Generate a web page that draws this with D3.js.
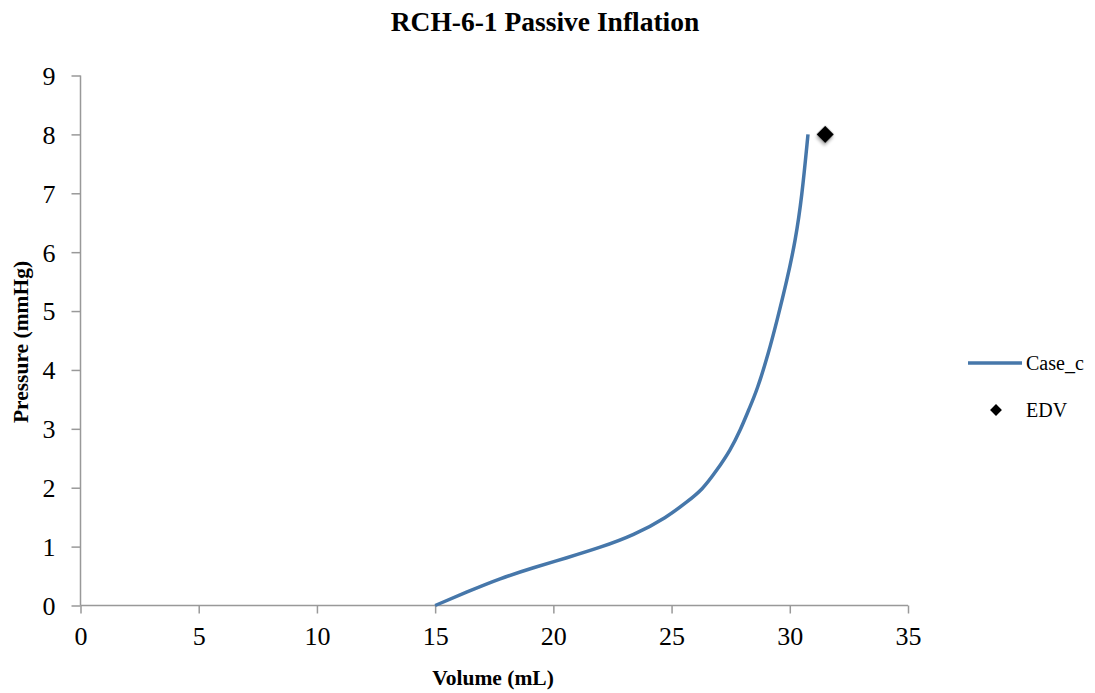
<!DOCTYPE html>
<html>
<head>
<meta charset="utf-8">
<script src="https://cdn.jsdelivr.net/npm/d3@7"></script>
<style>
  html, body { margin: 0; padding: 0; background: #fff; }
  svg { display: block; }
  text { font-family: "Liberation Serif", "DejaVu Serif", serif; fill: #000; }
</style>
</head>
<body>
<svg id="chart" width="1095" height="693"></svg>
<script>
// Passive inflation pressure-volume curve (Case_c)
const volume   = [15.0, 16.34, 17.75, 19.16, 20.57, 21.98, 23.39, 24.81, 25.65, 26.29, 26.92, 27.49, 27.91, 28.26, 28.62, 29.11, 29.46, 29.88, 30.24, 30.51, 30.77];
const pressure = [0.0, 0.23, 0.46, 0.645, 0.81, 0.985, 1.19, 1.50, 1.76, 1.96, 2.30, 2.64, 2.98, 3.32, 3.66, 4.30, 4.84, 5.52, 6.20, 6.93, 8.0];

// End-diastolic volume marker
const edvVolume = [31.5];
const edvPressure = [8];

const xTicks = [0, 5, 10, 15, 20, 25, 30, 35];
const yTicks = [0, 1, 2, 3, 4, 5, 6, 7, 8, 9];

const seriesNames = ["Case_c", "EDV"];

const svg = d3.select("#chart");
const W = 1095, H = 693;
const margin = { left: 80.5, right: W - 908, top: 75.5, bottom: H - 605.5 };

const x = d3.scaleLinear().domain([0, 35]).range([margin.left, W - margin.right]);
const y = d3.scaleLinear().domain([0, 9]).range([H - margin.bottom, margin.top]);

const defs = svg.append("defs");
const f = defs.append("filter").attr("id", "shadow")
  .attr("x", "-50%").attr("y", "-50%").attr("width", "200%").attr("height", "200%");
f.append("feDropShadow").attr("dx", 1.5).attr("dy", 2.5).attr("stdDeviation", 1.5)
  .attr("flood-color", "#000").attr("flood-opacity", 0.3);

const axisColor = "#999";
const tickFont = "26px";

// Y axis
const yAxis = svg.append("g")
  .attr("transform", `translate(${x(0)},0)`)
  .call(d3.axisLeft(y).tickValues(yTicks).tickSize(9).tickPadding(16).tickFormat(d3.format("d")));
yAxis.selectAll("path, line").attr("stroke", axisColor).attr("stroke-width", 1.5);
yAxis.select(".domain").attr("d", `M0,${y(9)}V${y(0)}`);
yAxis.selectAll("text")
  .style("font-family", "Liberation Serif, serif").style("font-size", tickFont)
  .attr("fill", "#000").attr("dy", "0.34em");

// X axis
const xAxis = svg.append("g")
  .attr("transform", `translate(0,${y(0)})`)
  .call(d3.axisBottom(x).tickValues(xTicks).tickSize(8).tickPadding(13).tickFormat(d3.format("d")));
xAxis.selectAll("path, line").attr("stroke", axisColor).attr("stroke-width", 1.5);
xAxis.select(".domain").attr("d", `M${x(0)},0H${x(35)}`);
xAxis.selectAll("text")
  .style("font-family", "Liberation Serif, serif").style("font-size", tickFont)
  .attr("fill", "#000");

// Curve (B-spline through the sampled points for a smooth trace)
const pts = volume.map((v, i) => [v, pressure[i]]);
const line = d3.line().x(d => x(d[0])).y(d => y(d[1])).curve(d3.curveBasis);
svg.append("path")
  .datum(pts)
  .attr("d", line)
  .attr("fill", "none")
  .attr("stroke", "#4677AA")
  .attr("stroke-width", 3.5)
  .attr("stroke-linecap", "butt");

// EDV marker
svg.selectAll(".edv")
  .data(edvVolume.map((v, i) => [v, edvPressure[i]]))
  .join("path")
  .attr("class", "edv")
  .attr("transform", d => `translate(${x(d[0])},${y(d[1])}) rotate(45)`)
  .attr("d", d3.symbol().type(d3.symbolSquare).size(150)())
  .attr("fill", "#000")
  .attr("filter", "url(#shadow)");

// Title
svg.append("text")
  .attr("x", 545).attr("y", 31)
  .attr("text-anchor", "middle")
  .style("font-size", "27.5px").style("font-weight", "bold")
  .text("RCH-6-1 Passive Inflation");

// Axis titles
svg.append("text")
  .attr("x", 493).attr("y", 685)
  .attr("text-anchor", "middle")
  .style("font-size", "21.5px").style("font-weight", "bold")
  .text("Volume (mL)");

svg.append("text")
  .attr("transform", "translate(28,342) rotate(-90)")
  .attr("text-anchor", "middle")
  .style("font-size", "21.5px").style("font-weight", "bold")
  .text("Pressure (mmHg)");

// Legend
const lg = svg.append("g");
lg.append("line")
  .attr("x1", 968).attr("x2", 1022).attr("y1", 363).attr("y2", 363)
  .attr("stroke", "#4677AA").attr("stroke-width", 3.5);
lg.append("text").attr("x", 1026).attr("y", 370).style("font-size", "20px").text(seriesNames[0]);
lg.append("path")
  .attr("transform", "translate(996,410) rotate(45)")
  .attr("d", d3.symbol().type(d3.symbolSquare).size(70)())
  .attr("fill", "#000");
lg.append("text").attr("x", 1026).attr("y", 417).style("font-size", "20px").text(seriesNames[1]);
</script>
</body>
</html>
